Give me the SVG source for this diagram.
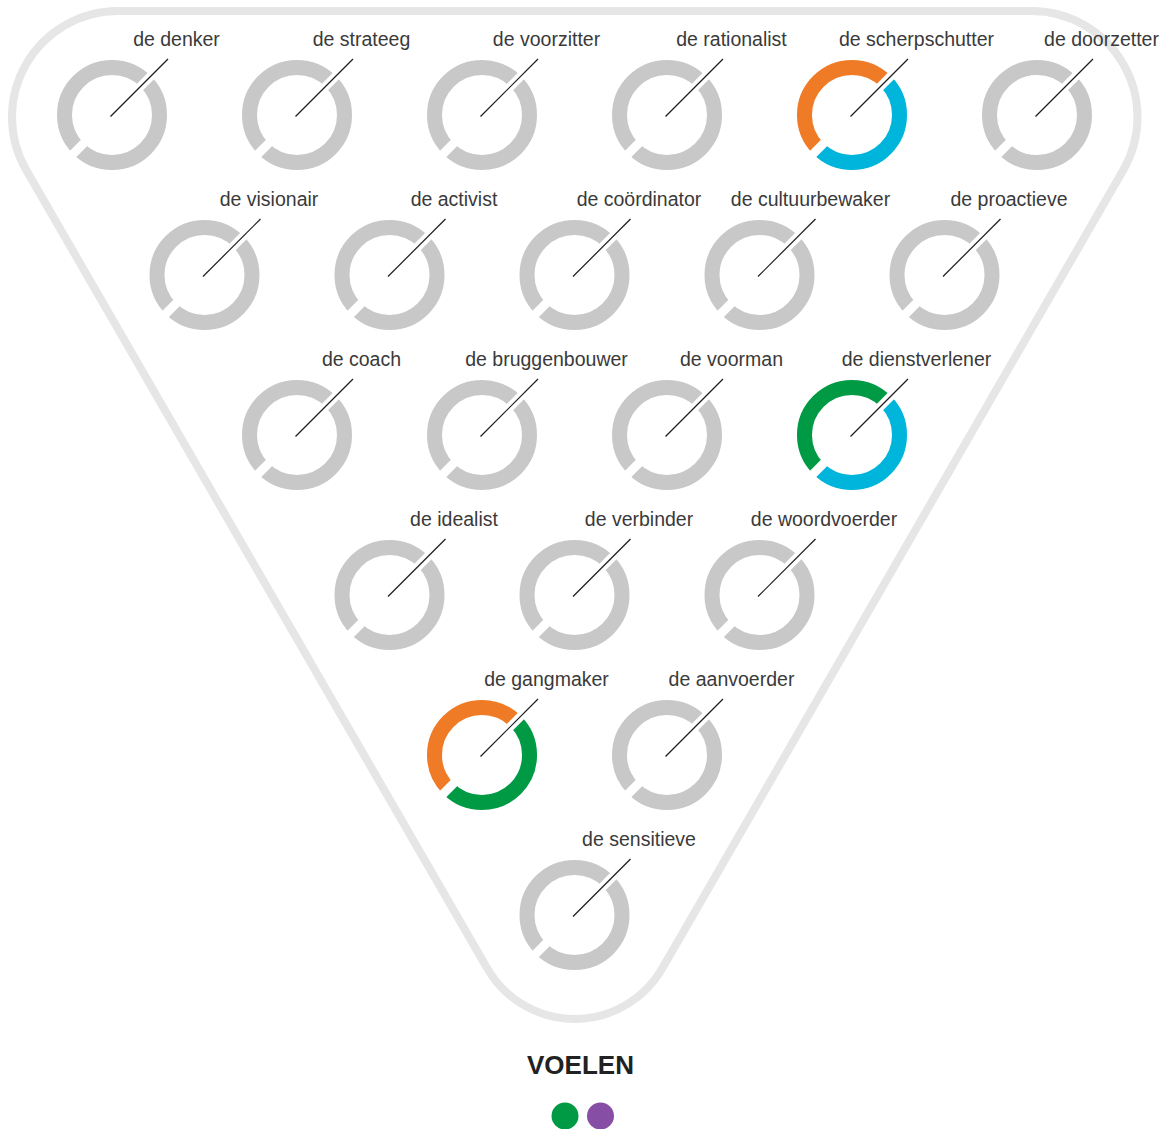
<svg xmlns="http://www.w3.org/2000/svg" xmlns:xlink="http://www.w3.org/1999/xlink" width="1163" height="1129" viewBox="0 0 1163 1129">
<style>
.outline{fill:none;stroke:#e6e6e6;stroke-width:8}
.ring{fill:none;stroke-width:15}
.gray{stroke:#c8c8c8}
.orange{stroke:#f07b26}
.blue{stroke:#00b5dc}
.green{stroke:#009a45}
.lead{stroke:#1e1e1e;stroke-width:1.2;fill:none}
.lbl{font-family:"Liberation Sans",Arial,Helvetica,sans-serif;font-size:19.5px;fill:#3a3a3a;text-anchor:middle}
.title{font-family:"Liberation Sans",Arial,Helvetica,sans-serif;font-size:26px;font-weight:bold;fill:#222;text-anchor:middle}
</style>
<defs>
<mask id="gap" maskUnits="userSpaceOnUse" x="-70" y="-70" width="140" height="140">
<rect x="-70" y="-70" width="140" height="140" fill="#fff"/>
<rect x="-80" y="-4.5" width="160" height="9" fill="#000" transform="rotate(-45)"/>
</mask>
<g id="grayring">
<circle class="ring gray" cx="0" cy="0" r="47.5" mask="url(#gap)"/>
<line class="lead" x1="-1.5" y1="1.5" x2="56" y2="-56"/>
</g>
</defs>
<g id="outline">
<path class="outline" d="M118 11 L1031.5 11 A106 106 0 0 1 1123.3 170 L662.2 968.5 A101 101 0 0 1 487.3 968.5 L26.2 170 A106 106 0 0 1 118 11 Z"/>
</g>
<g id="connectors"></g>
<g id="n-denker" transform="translate(112,115)"><use xlink:href="#grayring"/><text class="lbl" x="64.5" y="-69.5">de denker</text></g>
<g id="n-strateeg" transform="translate(297,115)"><use xlink:href="#grayring"/><text class="lbl" x="64.5" y="-69.5">de strateeg</text></g>
<g id="n-voorzitter" transform="translate(482,115)"><use xlink:href="#grayring"/><text class="lbl" x="64.5" y="-69.5">de voorzitter</text></g>
<g id="n-rationalist" transform="translate(667,115)"><use xlink:href="#grayring"/><text class="lbl" x="64.5" y="-69.5">de rationalist</text></g>
<g id="n-scherpschutter" transform="translate(852,115)">
<g mask="url(#gap)"><path class="ring orange" d="M-33.6 33.6 A47.5 47.5 0 0 1 33.6 -33.6"/><path class="ring blue" d="M33.6 -33.6 A47.5 47.5 0 0 1 -33.6 33.6"/></g>
<line class="lead" x1="-1.5" y1="1.5" x2="56" y2="-56"/>
<text class="lbl" x="64.5" y="-69.5">de scherpschutter</text></g>
<g id="n-doorzetter" transform="translate(1037,115)"><use xlink:href="#grayring"/><text class="lbl" x="64.5" y="-69.5">de doorzetter</text></g>

<g id="n-visionair" transform="translate(204.5,275)"><use xlink:href="#grayring"/><text class="lbl" x="64.5" y="-69.5">de visionair</text></g>
<g id="n-activist" transform="translate(389.5,275)"><use xlink:href="#grayring"/><text class="lbl" x="64.5" y="-69.5">de activist</text></g>
<g id="n-coordinator" transform="translate(574.5,275)"><use xlink:href="#grayring"/><text class="lbl" x="64.5" y="-69.5">de coördinator</text></g>
<g id="n-cultuurbewaker" transform="translate(759.5,275)"><use xlink:href="#grayring"/><text class="lbl" x="51" y="-69.5">de cultuurbewaker</text></g>
<g id="n-proactieve" transform="translate(944.5,275)"><use xlink:href="#grayring"/><text class="lbl" x="64.5" y="-69.5">de proactieve</text></g>

<g id="n-coach" transform="translate(297,435)"><use xlink:href="#grayring"/><text class="lbl" x="64.5" y="-69.5">de coach</text></g>
<g id="n-bruggenbouwer" transform="translate(482,435)"><use xlink:href="#grayring"/><text class="lbl" x="64.5" y="-69.5">de bruggenbouwer</text></g>
<g id="n-voorman" transform="translate(667,435)"><use xlink:href="#grayring"/><text class="lbl" x="64.5" y="-69.5">de voorman</text></g>
<g id="n-dienstverlener" transform="translate(852,435)">
<g mask="url(#gap)"><path class="ring green" d="M-33.6 33.6 A47.5 47.5 0 0 1 33.6 -33.6"/><path class="ring blue" d="M33.6 -33.6 A47.5 47.5 0 0 1 -33.6 33.6"/></g>
<line class="lead" x1="-1.5" y1="1.5" x2="56" y2="-56"/>
<text class="lbl" x="64.5" y="-69.5">de dienstverlener</text></g>

<g id="n-idealist" transform="translate(389.5,595)"><use xlink:href="#grayring"/><text class="lbl" x="64.5" y="-69.5">de idealist</text></g>
<g id="n-verbinder" transform="translate(574.5,595)"><use xlink:href="#grayring"/><text class="lbl" x="64.5" y="-69.5">de verbinder</text></g>
<g id="n-woordvoerder" transform="translate(759.5,595)"><use xlink:href="#grayring"/><text class="lbl" x="64.5" y="-69.5">de woordvoerder</text></g>

<g id="n-gangmaker" transform="translate(482,755)">
<g mask="url(#gap)"><path class="ring orange" d="M-33.6 33.6 A47.5 47.5 0 0 1 33.6 -33.6"/><path class="ring green" d="M33.6 -33.6 A47.5 47.5 0 0 1 -33.6 33.6"/></g>
<line class="lead" x1="-1.5" y1="1.5" x2="56" y2="-56"/>
<text class="lbl" x="64.5" y="-69.5">de gangmaker</text></g>
<g id="n-aanvoerder" transform="translate(667,755)"><use xlink:href="#grayring"/><text class="lbl" x="64.5" y="-69.5">de aanvoerder</text></g>

<g id="n-sensitieve" transform="translate(574.5,915)"><use xlink:href="#grayring"/><text class="lbl" x="64.5" y="-69.5">de sensitieve</text></g>

<g id="legend">
<text class="title" x="580.5" y="1074">VOELEN</text>
<circle cx="565" cy="1116" r="13.5" fill="#009a45"/>
<circle cx="600.5" cy="1116" r="13.5" fill="#874ea6"/>
</g>
</svg>
